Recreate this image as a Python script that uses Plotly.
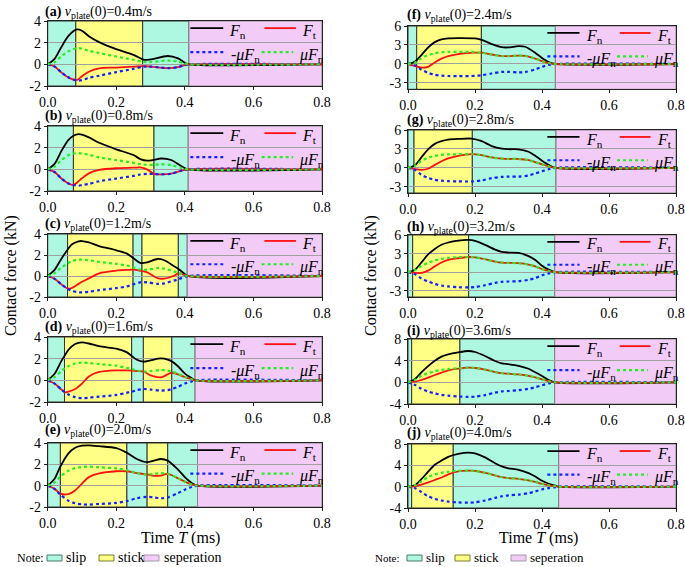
import plotly.graph_objects as go

# ---------------- data ----------------
labels = ["(a)", "(b)", "(c)", "(d)", "(e)", "(f)", "(g)", "(h)", "(i)", "(j)"]
speeds = ["0.4", "0.8", "1.2", "1.6", "2.0", "2.4", "2.8", "3.2", "3.6", "4.0"]

t_a = [0, 0.02, 0.04, 0.06, 0.085, 0.1, 0.12, 0.15, 0.2, 0.25, 0.28, 0.3, 0.35, 0.38, 0.4, 0.412, 0.8]
fn_a = [0, 0.5, 1.6, 2.6, 3.22, 3.1, 2.6, 2.05, 1.4, 0.88, 0.42, 0.45, 0.77, 0.55, 0.15, 0, 0]
ft_a = [0, -0.2, -0.75, -1.2, -1.45, -1.1, -0.68, -0.37, -0.3, -0.22, -0.17, -0.21, -0.35, -0.26, -0.07, 0, 0]
nmufn_a = [0, -0.2, -0.75, -1.2, -1.5, -1.45, -1.25, -1.05, -0.72, -0.42, -0.22, -0.21, -0.35, -0.26, -0.07, 0, 0]
mufn_a = [0, 0.2, 0.75, 1.2, 1.5, 1.45, 1.25, 1.05, 0.72, 0.42, 0.22, 0.21, 0.35, 0.26, 0.07, 0, 0]

t_b = [0, 0.02, 0.04, 0.06, 0.075, 0.09, 0.1, 0.12, 0.15, 0.2, 0.25, 0.27, 0.29, 0.31, 0.33, 0.36, 0.39, 0.41, 0.8]
fn_b = [0, 0.5, 1.7, 2.7, 3.1, 3.25, 3.2, 2.95, 2.45, 1.85, 1.32, 0.95, 0.8, 0.88, 1.0, 0.86, 0.28, 0, 0]
ft_b = [0, -0.25, -0.85, -1.3, -1.45, -1.1, -0.83, -0.37, -0.06, 0.1, 0.15, 0.18, 0.0, -0.42, -0.46, -0.4, -0.12, 0, 0]
nmufn_b = [0, -0.25, -0.85, -1.3, -1.45, -1.5, -1.45, -1.35, -1.1, -0.85, -0.6, -0.48, -0.42, -0.42, -0.46, -0.4, -0.12, 0, 0]
mufn_b = [0, 0.25, 0.85, 1.3, 1.45, 1.5, 1.45, 1.35, 1.1, 0.85, 0.6, 0.48, 0.42, 0.42, 0.46, 0.4, 0.12, 0, 0]

t_c = [0, 0.02, 0.04, 0.058, 0.07, 0.09, 0.1, 0.12, 0.15, 0.2, 0.23, 0.25, 0.27, 0.29, 0.32, 0.34, 0.37, 0.38, 0.39, 0.41, 0.8]
fn_c = [0, 0.58, 1.65, 2.5, 3.0, 3.3, 3.33, 3.2, 2.85, 2.45, 2.15, 1.7, 1.25, 1.3, 1.62, 1.5, 0.9, 0.7, 0.45, 0, 0]
ft_c = [0, -0.27, -0.8, -1.2, -1.15, -0.75, -0.55, -0.23, 0.26, 0.52, 0.58, 0.6, 0.5, 0.35, -0.2, -0.25, 0.05, 0.25, 0.2, 0, 0]
nmufn_c = [0, -0.27, -0.8, -1.2, -1.42, -1.55, -1.56, -1.5, -1.35, -1.15, -1.0, -0.8, -0.6, -0.6, -0.75, -0.7, -0.42, -0.33, -0.2, 0, 0]
mufn_c = [0, 0.27, 0.8, 1.2, 1.42, 1.55, 1.56, 1.5, 1.35, 1.15, 1.0, 0.8, 0.6, 0.6, 0.75, 0.7, 0.42, 0.33, 0.2, 0, 0]

t_d = [0, 0.02, 0.04, 0.05, 0.06, 0.08, 0.1, 0.12, 0.15, 0.2, 0.23, 0.245, 0.26, 0.28, 0.3, 0.33, 0.35, 0.362, 0.38, 0.4, 0.42, 0.43, 0.8]
fn_d = [0, 0.6, 1.8, 2.3, 2.8, 3.35, 3.5, 3.4, 3.15, 2.92, 2.6, 2.25, 1.9, 1.72, 1.85, 2.02, 1.92, 1.75, 1.3, 0.62, 0.2, 0, 0]
ft_d = [0, -0.3, -0.85, -1.1, -1.05, -0.8, -0.3, 0.35, 0.77, 0.92, 0.92, 0.9, 0.85, 0.8, 0.46, 0.27, 0.55, 0.7, 0.55, 0.3, 0.1, 0, 0]
nmufn_d = [0, -0.3, -0.85, -1.1, -1.3, -1.55, -1.65, -1.6, -1.5, -1.35, -1.15, -1.05, -0.9, -0.8, -0.85, -0.95, -0.9, -0.8, -0.6, -0.3, -0.1, 0, 0]
mufn_d = [0, 0.3, 0.85, 1.1, 1.3, 1.55, 1.65, 1.6, 1.5, 1.35, 1.15, 1.05, 0.9, 0.8, 0.85, 0.95, 0.9, 0.8, 0.6, 0.3, 0.1, 0, 0]

t_e = [0, 0.02, 0.037, 0.06, 0.08, 0.1, 0.12, 0.15, 0.2, 0.23, 0.26, 0.29, 0.31, 0.33, 0.35, 0.38, 0.4, 0.42, 0.437, 0.8]
fn_e = [0, 0.65, 1.8, 3.0, 3.55, 3.75, 3.78, 3.7, 3.52, 3.1, 2.5, 2.2, 2.35, 2.5, 2.35, 1.5, 0.8, 0.25, 0, 0]
ft_e = [0, -0.3, -0.75, -0.8, -0.45, 0.2, 0.8, 1.15, 1.35, 1.35, 1.18, 1.05, 0.92, 0.95, 1.1, 0.7, 0.38, 0.12, 0, 0]
nmufn_e = [0, -0.3, -0.85, -1.4, -1.65, -1.75, -1.78, -1.72, -1.62, -1.45, -1.18, -1.05, -1.1, -1.18, -1.1, -0.7, -0.38, -0.12, 0, 0]
mufn_e = [0, 0.3, 0.85, 1.4, 1.65, 1.75, 1.78, 1.72, 1.62, 1.45, 1.18, 1.05, 1.1, 1.18, 1.1, 0.7, 0.38, 0.12, 0, 0]

t_f = [0, 0.02, 0.04, 0.06, 0.08, 0.1, 0.12, 0.15, 0.2, 0.22, 0.25, 0.28, 0.3, 0.33, 0.35, 0.38, 0.4, 0.42, 0.44, 0.8]
fn_f = [0, 0.35, 1.4, 2.6, 3.45, 3.87, 4.03, 4.08, 4.03, 3.8, 3.15, 2.65, 2.62, 2.83, 2.72, 1.75, 0.95, 0.3, 0, 0]
ft_f = [0, -0.3, -0.58, -0.45, 0.25, 0.84, 1.25, 1.57, 1.78, 1.78, 1.5, 1.25, 1.25, 1.33, 1.28, 0.85, 0.45, 0.15, 0, 0]
nmufn_f = [0, -0.2, -0.9, -1.4, -1.7, -1.85, -1.9, -1.92, -1.88, -1.78, -1.5, -1.25, -1.25, -1.33, -1.28, -0.85, -0.45, -0.15, 0, 0]
mufn_f = [0, 0.2, 0.9, 1.4, 1.7, 1.85, 1.9, 1.92, 1.88, 1.78, 1.5, 1.25, 1.25, 1.33, 1.28, 0.85, 0.45, 0.15, 0, 0]

t_g = [0, 0.02, 0.04, 0.06, 0.08, 0.1, 0.12, 0.15, 0.19, 0.22, 0.25, 0.28, 0.3, 0.33, 0.36, 0.38, 0.4, 0.42, 0.44, 0.8]
fn_g = [0, 0.36, 1.65, 2.93, 3.8, 4.22, 4.47, 4.58, 4.63, 4.22, 3.45, 3.03, 2.95, 2.93, 2.55, 1.9, 1.13, 0.46, 0, 0]
ft_g = [0, -0.2, -0.32, -0.15, 0.46, 1.03, 1.5, 1.9, 2.16, 2.0, 1.65, 1.45, 1.4, 1.4, 1.22, 0.9, 0.55, 0.22, 0, 0]
nmufn_g = [0, -0.3, -1.1, -1.6, -1.9, -2.05, -2.12, -2.15, -2.17, -2.0, -1.65, -1.45, -1.4, -1.4, -1.22, -0.9, -0.55, -0.22, 0, 0]
mufn_g = [0, 0.3, 1.1, 1.6, 1.9, 2.05, 2.12, 2.15, 2.17, 2.0, 1.65, 1.45, 1.4, 1.4, 1.22, 0.9, 0.55, 0.22, 0, 0]

t_h = [0, 0.02, 0.04, 0.06, 0.08, 0.1, 0.12, 0.15, 0.18, 0.2, 0.23, 0.26, 0.28, 0.3, 0.33, 0.36, 0.38, 0.4, 0.42, 0.44, 0.8]
fn_h = [0, 0.36, 1.56, 2.86, 3.75, 4.42, 4.79, 5.1, 5.2, 5.05, 4.42, 3.64, 3.28, 3.17, 3.1, 2.6, 1.98, 1.04, 0.42, 0, 0]
ft_h = [0, -0.1, -0.12, 0.26, 0.94, 1.56, 1.98, 2.25, 2.45, 2.4, 2.1, 1.72, 1.55, 1.5, 1.45, 1.23, 0.93, 0.5, 0.2, 0, 0]
nmufn_h = [0, -0.3, -1.0, -1.5, -1.9, -2.15, -2.3, -2.42, -2.45, -2.4, -2.1, -1.72, -1.55, -1.5, -1.45, -1.23, -0.93, -0.5, -0.2, 0, 0]
mufn_h = [0, 0.3, 1.0, 1.5, 1.9, 2.15, 2.3, 2.42, 2.45, 2.4, 2.1, 1.72, 1.55, 1.5, 1.45, 1.23, 0.93, 0.5, 0.2, 0, 0]

t_i = [0, 0.02, 0.04, 0.06, 0.08, 0.1, 0.12, 0.15, 0.18, 0.2, 0.23, 0.26, 0.28, 0.3, 0.33, 0.36, 0.38, 0.4, 0.42, 0.44, 0.8]
fn_i = [0, 0.55, 1.85, 3.0, 4.0, 4.74, 5.17, 5.54, 5.78, 5.6, 4.86, 3.94, 3.5, 3.35, 3.05, 2.5, 1.85, 1.17, 0.43, 0, 0]
ft_i = [0, 0.12, 0.43, 0.86, 1.35, 1.8, 2.2, 2.52, 2.7, 2.65, 2.35, 1.9, 1.68, 1.6, 1.45, 1.2, 0.9, 0.55, 0.2, 0, 0]
nmufn_i = [0, -0.45, -1.2, -1.7, -2.05, -2.3, -2.45, -2.6, -2.7, -2.65, -2.35, -1.9, -1.68, -1.6, -1.45, -1.2, -0.9, -0.55, -0.2, 0, 0]
mufn_i = [0, 0.45, 1.2, 1.7, 2.05, 2.3, 2.45, 2.6, 2.7, 2.65, 2.35, 1.9, 1.68, 1.6, 1.45, 1.2, 0.9, 0.55, 0.2, 0, 0]

t_j = [0, 0.02, 0.04, 0.06, 0.08, 0.1, 0.12, 0.15, 0.18, 0.2, 0.23, 0.26, 0.28, 0.3, 0.33, 0.36, 0.38, 0.4, 0.42, 0.44, 0.45, 0.8]
fn_j = [0, 0.25, 1.4, 2.8, 4.1, 4.9, 5.6, 6.15, 6.4, 6.26, 5.5, 4.4, 3.8, 3.45, 3.15, 2.55, 1.9, 1.1, 0.55, 0.2, 0, 0]
ft_j = [0, 0.05, 0.4, 0.8, 1.25, 1.72, 2.3, 2.85, 3.0, 2.95, 2.6, 2.1, 1.8, 1.62, 1.48, 1.2, 0.9, 0.52, 0.26, 0.1, 0, 0]
nmufn_j = [0, -0.25, -1.0, -1.8, -2.3, -2.6, -2.8, -2.95, -3.0, -2.95, -2.6, -2.1, -1.8, -1.62, -1.48, -1.2, -0.9, -0.52, -0.26, -0.1, 0, 0]
mufn_j = [0, 0.25, 1.0, 1.8, 2.3, 2.6, 2.8, 2.95, 3.0, 2.95, 2.6, 2.1, 1.8, 1.62, 1.48, 1.2, 0.9, 0.52, 0.26, 0.1, 0, 0]

# region boundaries (ms) and their states
bounds_a = [0, 0.082, 0.277, 0.412, 0.8]
kinds_a = ["slip", "stick", "slip", "sep"]
bounds_b = [0, 0.075, 0.31, 0.41, 0.8]
kinds_b = ["slip", "stick", "slip", "sep"]
bounds_c = [0, 0.058, 0.249, 0.275, 0.381, 0.407, 0.8]
kinds_c = ["slip", "stick", "slip", "stick", "slip", "sep"]
bounds_d = [0, 0.049, 0.245, 0.279, 0.362, 0.43, 0.8]
kinds_d = ["slip", "stick", "slip", "stick", "slip", "sep"]
bounds_e = [0, 0.037, 0.231, 0.29, 0.35, 0.437, 0.8]
kinds_e = ["slip", "stick", "slip", "stick", "slip", "sep"]
bounds_f = [0, 0.026, 0.219, 0.44, 0.8]
kinds_f = ["slip", "stick", "slip", "sep"]
bounds_g = [0, 0.018, 0.192, 0.442, 0.8]
kinds_g = ["slip", "stick", "slip", "sep"]
bounds_h = [0, 0.014, 0.181, 0.438, 0.8]
kinds_h = ["slip", "stick", "slip", "sep"]
bounds_i = [0, 0.011, 0.155, 0.438, 0.8]
kinds_i = ["slip", "stick", "slip", "sep"]
bounds_j = [0, 0.011, 0.135, 0.45, 0.8]
kinds_j = ["slip", "stick", "slip", "sep"]

# axis ticks
x_tickvals = [0, 0.2, 0.4, 0.6, 0.8]
x_ticktext = ["0.0", "0.2", "0.4", "0.6", "0.8"]
y_ticks_small = [-2, 0, 2, 4]
y_ticks_mid = [-3, 0, 3, 6]
y_ticks_big = [-4, 0, 4, 8]

# ---------------- figure ----------------
W, H = 685, 567
FONT = "Liberation Serif"

def px(x):
    return x / W

def py(y):
    return 1 - y / H

fill = {"slip": "#aef7e0", "stick": "#ffff85", "sep": "#f2cbf6"}
edge = {"slip": "#333333", "stick": "#333333", "sep": "#8a8a8a"}

series = [
    (t_a, fn_a, ft_a, nmufn_a, mufn_a, bounds_a, kinds_a, y_ticks_small, [-2, 4]),
    (t_b, fn_b, ft_b, nmufn_b, mufn_b, bounds_b, kinds_b, y_ticks_small, [-2, 4]),
    (t_c, fn_c, ft_c, nmufn_c, mufn_c, bounds_c, kinds_c, y_ticks_small, [-2, 4]),
    (t_d, fn_d, ft_d, nmufn_d, mufn_d, bounds_d, kinds_d, y_ticks_small, [-2, 4]),
    (t_e, fn_e, ft_e, nmufn_e, mufn_e, bounds_e, kinds_e, y_ticks_small, [-2, 4]),
    (t_f, fn_f, ft_f, nmufn_f, mufn_f, bounds_f, kinds_f, y_ticks_mid, [-4, 6]),
    (t_g, fn_g, ft_g, nmufn_g, mufn_g, bounds_g, kinds_g, y_ticks_mid, [-4, 6]),
    (t_h, fn_h, ft_h, nmufn_h, mufn_h, bounds_h, kinds_h, y_ticks_mid, [-4, 6]),
    (t_i, fn_i, ft_i, nmufn_i, mufn_i, bounds_i, kinds_i, y_ticks_big, [-4, 8]),
    (t_j, fn_j, ft_j, nmufn_j, mufn_j, bounds_j, kinds_j, y_ticks_big, [-4, 8]),
]

# panel placement in pixels: (top, bottom); columns (left, right)
left_x = (47.7, 322)
right_x = (408, 676)
rows_left = [(21, 86), (126, 191), (234, 297), (337, 402), (443, 507)]
rows_right = [(26, 89.3), (130, 193), (235, 297), (339, 404), (444, 508)]
title_y_left = [12, 117, 225, 327, 430]
title_y_right = [15, 121, 227, 331, 433]

fig = go.Figure()
shapes = []
annotations = []
layout = {}

for k, (t, fn, ft, nmufn, mufn, bounds, kinds, yt, yr) in enumerate(series):
    n = k + 1
    col = 0 if k < 5 else 1
    r = k % 5
    xl, xr = left_x if col == 0 else right_x
    yt_px, yb_px = (rows_left if col == 0 else rows_right)[r]
    xa = "x" if n == 1 else f"x{n}"
    ya = "y" if n == 1 else f"y{n}"
    xname = "xaxis" if n == 1 else f"xaxis{n}"
    yname = "yaxis" if n == 1 else f"yaxis{n}"

    layout[xname] = dict(
        domain=[px(xl), px(xr)], anchor=ya, range=[0, 0.8], automargin=False,
        tickvals=x_tickvals, ticktext=x_ticktext,
        showgrid=False, zeroline=False,
        showline=True, linecolor="#222", linewidth=1, mirror=True,
        ticks="outside", ticklen=3, tickcolor="#222",
        tickfont=dict(family=FONT, size=14, color="black"),
    )
    layout[yname] = dict(
        domain=[py(yb_px), py(yt_px)], anchor=xa, range=yr, automargin=False,
        tickvals=yt, ticktext=[str(v) for v in yt],
        showgrid=True, gridcolor="#a0a0a0", gridwidth=1,
        zeroline=False,
        showline=True, linecolor="#222", linewidth=1, mirror=True,
        ticks="outside", ticklen=3, tickcolor="#222",
        tickfont=dict(family=FONT, size=14, color="black"),
    )

    # state regions
    for i, kind in enumerate(kinds):
        shapes.append(dict(
            type="rect", xref=xa, yref=f"{ya} domain",
            x0=bounds[i], x1=bounds[i + 1], y0=0, y1=1,
            fillcolor=fill[kind], line=dict(color=edge[kind], width=1),
            layer="below",
        ))

    common = dict(xaxis=xa, yaxis=ya, mode="lines", showlegend=False,
                  line_shape="spline", hoverinfo="skip")
    fig.add_trace(go.Scatter(x=t, y=fn, line=dict(color="black", width=1.8, smoothing=0.8), **common))
    fig.add_trace(go.Scatter(x=t, y=ft, line=dict(color="#ff1010", width=1.8, smoothing=0.8), **common))
    fig.add_trace(go.Scatter(x=t, y=nmufn, line=dict(color="#1020ff", width=2.2, dash="3px,3px", smoothing=0.8), **common))
    fig.add_trace(go.Scatter(x=t, y=mufn, line=dict(color="#22ee22", width=2.2, dash="3px,3px", smoothing=0.8), **common))

    # panel title
    annotations.append(dict(
        xref="paper", yref="paper", x=px(xl - 5 if col == 0 else xl - 3),
        y=py(title_y_left[r] if col == 0 else title_y_right[r]),
        xanchor="left", yanchor="middle", showarrow=False,
        text=f"<b>{labels[k]}</b> <i>v</i><sub>plate</sub>(0)={speeds[k]}m/s",
        font=dict(family=FONT, size=14, color="black"),
    ))

    # in-panel legend
    xd, yd = f"{xa} domain", f"{ya} domain"
    leg = [
        (0.52, 0.64, 0.89, "black", "solid", 1.8, 0.655, "<i>F</i><sub>n</sub>"),
        (0.79, 0.905, 0.89, "#ff1010", "solid", 1.8, 0.92, "<i>F</i><sub>t</sub>"),
        (0.52, 0.64, 0.52, "#1020ff", "3px,3px", 2.2, 0.66, "-<i>μF</i><sub>n</sub>"),
        (0.78, 0.895, 0.52, "#22ee22", "3px,3px", 2.2, 0.91, "<i>μF</i><sub>n</sub>"),
    ]
    for x0, x1, yy, c, d, w, tx, txt in leg:
        shapes.append(dict(type="line", xref=xd, yref=yd, x0=x0, x1=x1, y0=yy, y1=yy,
                           line=dict(color=c, width=w, dash=d), layer="above"))
        annotations.append(dict(xref=xd, yref=yd, x=tx, y=yy - 0.05, xanchor="left", yanchor="middle",
                                showarrow=False, text=txt,
                                font=dict(family=FONT, size=16, color="black")))

# axis titles
for xc in (180, 538):
    annotations.append(dict(xref="paper", yref="paper", x=px(xc), y=py(538), showarrow=False,
                            xanchor="center", yanchor="middle",
                            text="Time <i>T</i> (ms)", font=dict(family=FONT, size=16, color="black")))
for xc in (11, 371):
    annotations.append(dict(xref="paper", yref="paper", x=px(xc), y=py(276), showarrow=False,
                            xanchor="center", yanchor="middle", textangle=-90,
                            text="Contact force (kN)", font=dict(family=FONT, size=16, color="black")))

# note legends
note_edge = {"slip": "#4a7a6a", "stick": "#7a7a30", "sep": "#a898a8"}
for x_note, box_x, txt_x, fs in [
    (15, [47, 99, 144], [64, 116, 162], 14),
    (373, [407, 455, 511], [424, 472, 528], 13),
]:
    annotations.append(dict(xref="paper", yref="paper", x=px(x_note), y=py(558), showarrow=False,
                            xanchor="left", yanchor="middle", text="Note:",
                            font=dict(family=FONT, size=fs - 2, color="black")))
    for kind, bx, tx, name in zip(["slip", "stick", "sep"], box_x, txt_x, ["slip", "stick", "seperation"]):
        shapes.append(dict(type="rect", xref="paper", yref="paper",
                           x0=px(bx), x1=px(bx + 15), y0=py(561), y1=py(555),
                           fillcolor=fill[kind], line=dict(color=note_edge[kind], width=1)))
        annotations.append(dict(xref="paper", yref="paper", x=px(tx), y=py(557), showarrow=False,
                                xanchor="left", yanchor="middle", text=name,
                                font=dict(family=FONT, size=fs, color="black")))

fig.update_layout(
    template="none",
    width=W, height=H,
    margin=dict(l=0, r=0, t=0, b=0, pad=0),
    paper_bgcolor="white", plot_bgcolor="white",
    shapes=shapes, annotations=annotations,
    font=dict(family=FONT, color="black"),
    hovermode=False,
    **layout,
)

fig.write_html(
    "out.html",
    config={"displayModeBar": False, "staticPlot": True},
    post_script="document.body.style.margin='0';document.body.style.padding='0';document.body.style.overflow='hidden';",
)
